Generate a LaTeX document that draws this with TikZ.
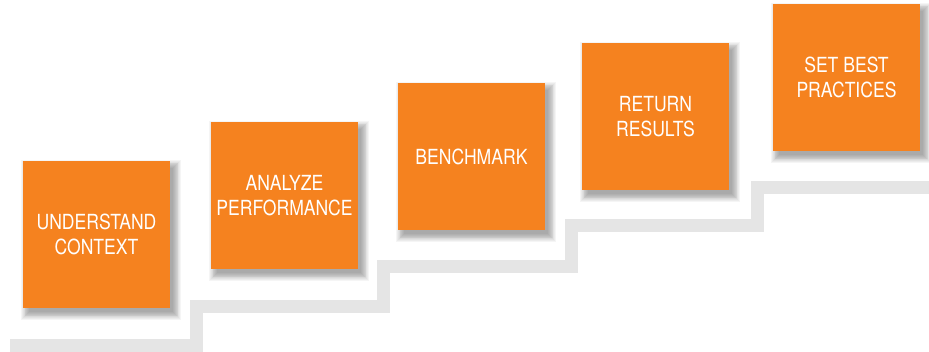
\documentclass[tikz,border=0pt]{standalone}
\usepackage{fontspec}
\newfontfamily\boxfont[FakeStretch=0.845]{TeX Gyre Heros}
\definecolor{steporange}{RGB}{245,130,31}
\definecolor{stairgrey}{RGB}{229,229,229}
\begin{document}
\begin{tikzpicture}[x=1pt,y=-1pt,
  stepbox/.style={fill=steporange, draw=none, minimum width=147pt, minimum height=147pt,
    inner sep=0pt, text=white, align=center,
    font=\boxfont\fontsize{20.8}{24.6}\selectfont},
  stair/.style={draw=stairgrey, line width=13pt, line join=miter}]
\useasboundingbox (0,0) rectangle (929,352);
\draw[stair] (10,345.5) -- (196.5,345.5) -- (196.5,306.5) -- (383.5,306.5) -- (383.5,266.5)
  -- (571,266.5) -- (571,226) -- (757.5,226) -- (757.5,187.5) -- (940,187.5);
% shadows positions (computed from box coordinates)
\foreach \cx/\cy in {96.5/234.5, 284.5/195.5, 471.5/156.5, 655.5/116.5, 846.5/77.5}{
  \foreach \k in {0,...,9}{
    \fill[black, opacity=0.04] (\cx-73.5+3-\k*0.9+3, \cy-73.5+4-\k*0.9+3) rectangle (\cx+73.5+3+\k*0.9, \cy+73.5+4+\k*0.9);
  }
}
\node[stepbox] (s1) at (96.5,234.5) {UNDERSTAND\\CONTEXT};
\node[stepbox] (s2) at (284.5,195.5) {ANALYZE\\PERFORMANCE};
\node[stepbox] (s3) at (471.5,156.5) {BENCHMARK};
\node[stepbox] (s4) at (655.5,116.5) {RETURN\\RESULTS};
\node[stepbox] (s5) at (846.5,77.5) {SET BEST\\PRACTICES};
\end{tikzpicture}
\end{document}
